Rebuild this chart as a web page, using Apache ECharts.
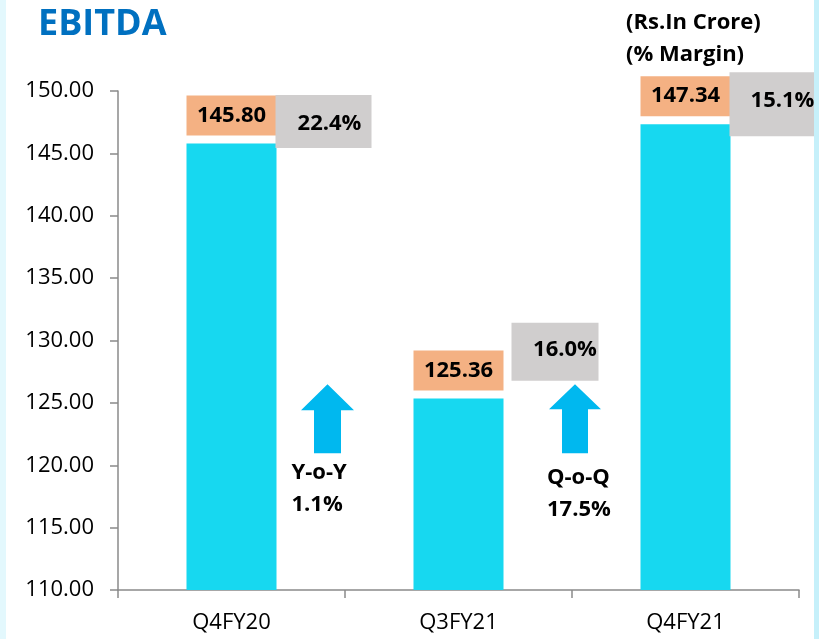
<!DOCTYPE html>
<html>
<head>
<meta charset="utf-8">
<script src="https://cdn.jsdelivr.net/npm/echarts@6/dist/echarts.min.js"></script>
<style>html,body{margin:0;padding:0;background:#fff}#c{width:819px;height:639px}</style>
</head>
<body>
<div id="c"></div>
<script>
// ---- data ----
var categories = ['Q4FY20', 'Q3FY21', 'Q4FY21'];
var ebitda = [145.80, 125.36, 147.34];
var margins = ['22.4%', '16.0%', '15.1%'];
var growthLabels = ['Y-o-Y', 'Q-o-Q'];
var growthValues = ['1.1%', '17.5%'];
var yTicks = {min: 110, max: 150, interval: 5};

// ---- layout (pixel offsets for annotation boxes / arrows) ----
var marginBoxLayout = [
  {dx: -1, dy: -48.5, w: 96, h: 53, tx: 6, ty: 2.5},
  {dx: 8, dy: -75.7, w: 87, h: 58, tx: 10, ty: -2},
  {dx: -1, dy: -52, w: 88, h: 64, tx: 9, ty: -3}
];
var arrowLayout = [
  {dx: 96, head: 26.5, shaft: 13.5, headH: 26, len: 69, textDx: -36, l1: 89, l2: 121},
  {dx: 116.5, head: 26, shaft: 13, headH: 25, len: 69, textDx: -28, l1: 94, l2: 126}
];
var arrowTipValue = 126.5;

var FONT = 'Open Sans';
var chart = echarts.init(document.getElementById('c'), null, {renderer: 'canvas'});

var option = {
  backgroundColor: '#ffffff',
  animation: false,
  textStyle: {fontFamily: FONT},
  title: [{
    text: 'EBITDA', left: 33, top: 2,
    textStyle: {color: '#0070c0', fontSize: 36, fontWeight: 'bold', fontFamily: FONT}
  }, {
    text: '(Rs.In Crore)\n(% Margin)', left: 621, top: 2,
    textStyle: {color: '#000', fontSize: 22, fontWeight: 'bold', fontFamily: FONT, lineHeight: 32}
  }],
  grid: {left: 118, right: 20, top: 91, bottom: 49, containLabel: false},
  xAxis: {
    type: 'category',
    data: categories,
    axisLine: {lineStyle: {color: '#8a8a8a', width: 1.5}},
    axisTick: {show: true, length: 8, lineStyle: {color: '#8a8a8a', width: 1.5}},
    axisLabel: {color: '#000', fontSize: 22, margin: 22, fontFamily: FONT}
  },
  yAxis: {
    type: 'value',
    min: yTicks.min, max: yTicks.max, interval: yTicks.interval,
    axisLine: {show: true, lineStyle: {color: '#8a8a8a', width: 1.5}},
    axisTick: {show: true, length: 8, lineStyle: {color: '#8a8a8a', width: 1.5}},
    splitLine: {show: false},
    axisLabel: {color: '#000', fontSize: 22, margin: 24, fontFamily: FONT,
      formatter: function (v) { return v.toFixed(2); }}
  },
  graphic: [
    {type: 'rect', left: 0, top: 0, shape: {width: 6, height: 639}, style: {fill: '#e3f8fd'}, z: 100},
    {type: 'rect', left: 814, top: 0, shape: {width: 5, height: 639}, style: {fill: '#c6f0fa'}, z: 100}
  ],
  series: [{
    type: 'bar',
    data: ebitda,
    barWidth: 90,
    itemStyle: {color: '#17d8f0'},
    label: {
      show: true, position: 'top', distance: 8,
      formatter: function (p) { return p.value.toFixed(2); },
      backgroundColor: '#f4b183',
      width: 90, height: 40, lineHeight: 40, align: 'center',
      color: '#000', fontSize: 22, fontWeight: 'bold', fontFamily: FONT
    },
    z: 2
  }, {
    type: 'custom',
    clip: false,
    z: 5,
    data: ebitda.map(function (v, i) { return [i, v]; }),
    renderItem: function (params, api) {
      var i = api.value(0);
      var pt = api.coord([i, api.value(1)]);
      var L = marginBoxLayout[i];
      var x = pt[0] + 45 + L.dx;
      var y = pt[1] + L.dy;
      return {
        type: 'group',
        children: [{
          type: 'rect', shape: {x: x, y: y, width: L.w, height: L.h},
          style: {fill: '#d0cece'}
        }, {
          type: 'text',
          style: {
            text: margins[i], x: x + L.w / 2 + L.tx, y: y + L.h / 2 + L.ty,
            align: 'center', verticalAlign: 'middle',
            fill: '#000', fontSize: 22, fontWeight: 'bold', fontFamily: FONT
          }
        }]
      };
    }
  }, {
    type: 'custom',
    clip: false,
    z: 5,
    data: growthLabels.map(function (v, i) { return [i, arrowTipValue]; }),
    renderItem: function (params, api) {
      var i = api.value(0);
      var pt = api.coord([i, api.value(1)]);
      var L = arrowLayout[i];
      var tx = pt[0] + L.dx, ty = pt[1];
      var pts = [
        [tx, ty],
        [tx + L.head, ty + L.headH],
        [tx + L.shaft, ty + L.headH],
        [tx + L.shaft, ty + L.len],
        [tx - L.shaft, ty + L.len],
        [tx - L.shaft, ty + L.headH],
        [tx - L.head, ty + L.headH]
      ];
      return {
        type: 'group',
        children: [{
          type: 'polygon', shape: {points: pts}, style: {fill: '#00b8ef'}
        }, {
          type: 'text',
          style: {
            text: growthLabels[i], x: tx + L.textDx, y: ty + L.l1,
            align: 'left', verticalAlign: 'middle',
            fill: '#000', fontSize: 22, fontWeight: 'bold', fontFamily: FONT
          }
        }, {
          type: 'text',
          style: {
            text: growthValues[i], x: tx + L.textDx, y: ty + L.l2,
            align: 'left', verticalAlign: 'middle',
            fill: '#000', fontSize: 22, fontWeight: 'bold', fontFamily: FONT
          }
        }]
      };
    }
  }]
};
chart.setOption(option);
</script>
</body>
</html>
